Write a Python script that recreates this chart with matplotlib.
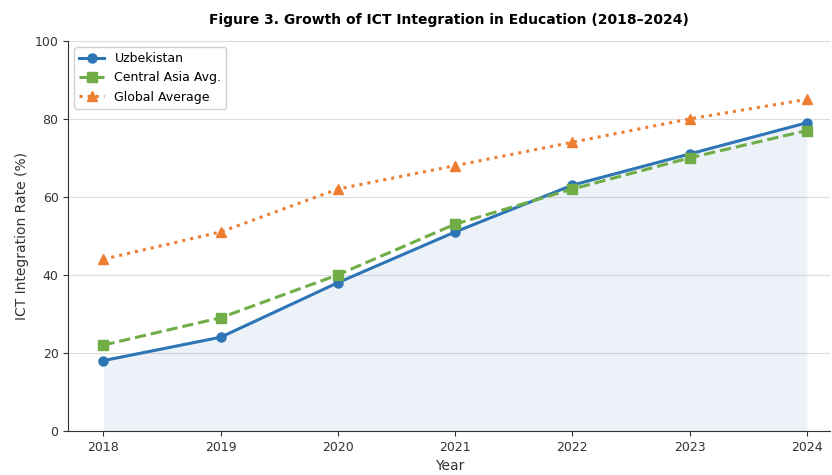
import matplotlib.pyplot as plt

years = [2018, 2019, 2020, 2021, 2022, 2023, 2024]
uzbekistan = [18, 24, 38, 51, 63, 71, 79]
central_asia = [22, 29, 40, 53, 62, 70, 77]
global_avg = [44, 51, 62, 68, 74, 80, 85]

fig = plt.figure(figsize=(8.32, 4.75), dpi=100)
ax = fig.add_axes([0.082, 0.093, 0.916, 0.821])

ax.fill_between(years, uzbekistan, color='#2E75B6', alpha=0.09, linewidth=0)
ax.plot(years, uzbekistan, color='#2E75B6', marker='o', markersize=6.5, linewidth=2.2, label='Uzbekistan')
ax.plot(years, central_asia, color='#70AD47', marker='s', markersize=6.5, linewidth=2.2, linestyle='--', label='Central Asia Avg.')
ax.plot(years, global_avg, color='#ED7D31', marker='^', markersize=6.5, linewidth=2.2, linestyle=':', label='Global Average')

ax.set_xlim(2017.7, 2024.2)
ax.set_ylim(0, 100)
ax.set_xticks(years)
ax.set_yticks([0, 20, 40, 60, 80, 100])
ax.grid(axis='y', color='#dddddd', linewidth=0.8)
ax.set_axisbelow(True)
for s in ['top', 'right']:
    ax.spines[s].set_visible(False)
ax.spines['left'].set_color('#333333')
ax.spines['bottom'].set_color('#333333')

ax.set_xlabel('Year', fontsize=10, color='#333333')
ax.set_ylabel('ICT Integration Rate (%)', fontsize=10, color='#333333')
ax.set_title('Figure 3. Growth of ICT Integration in Education (2018\u20132024)', fontsize=10, fontweight='bold', pad=12)
ax.tick_params(labelsize=9, colors='#333333')
ax.legend(loc='upper left', fontsize=9, framealpha=0.9)

fig.savefig('out.png', dpi=100)
